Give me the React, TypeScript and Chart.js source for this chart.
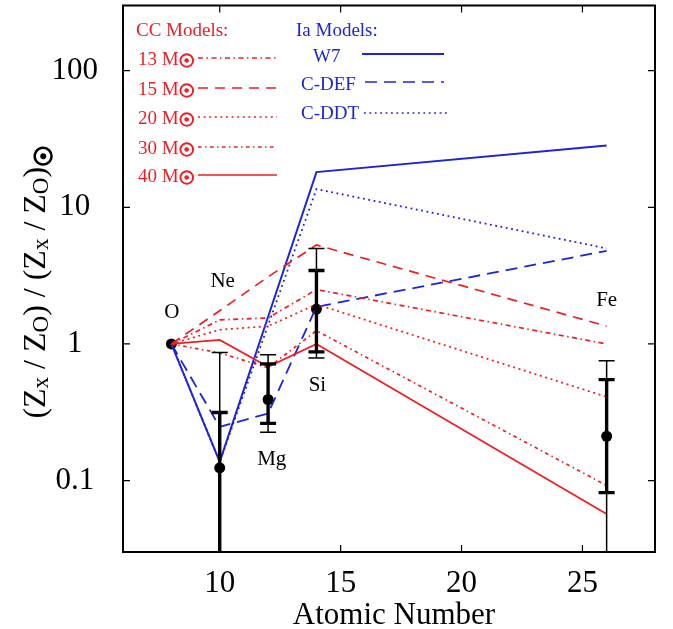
import React, { useEffect, useRef } from 'react';
import { Chart, registerables } from 'chart.js';

Chart.register(...registerables);

const RED = 'rgb(238,30,36)';
const BLUE = 'rgb(30,36,216)';
const SERIF = "'Liberation Serif', 'Times New Roman', serif";
const SYMBOL = "'DejaVu Sans', sans-serif";

// Elements O, Ne, Mg, Si, Fe
const atomicNumbers = [8, 10, 12, 14, 26];
const elementNames = ['O', 'Ne', 'Mg', 'Si', 'Fe'];

// CC (core-collapse) models
const cc13 = [1, 1.5, 1.55, 2.5, 1.0];
const cc15 = [1, 1.75, 3.1, 5.3, 1.35];
const cc20 = [1, 1.27, 1.35, 1.95, 0.41];
const cc30 = [1, 0.86, 0.67, 1.25, 0.092];
const cc40 = [1, 1.07, 0.68, 1.0, 0.057];

// Ia models
const w7 = [1, 0.137, 1.58, 18.1, 28.3];
const cdef = [1, 0.247, 0.31, 1.87, 4.8];
const cddt = [1, 0.137, 1.37, 13.6, 5.0];

// Observed ratios with error ranges (null = no bar, tiny = beyond the axis)
const obsValue = [1.0, 0.124, 0.392, 1.8, 0.211];
const thinHigh = [null, 0.865, 0.832, 5.0, 0.752];
const thinLow = [null, 0.001, 0.226, 0.79, 0.001];
const thickHigh = [null, 0.315, 0.715, 3.45, 0.548];
const thickLow = [null, 0.001, 0.262, 0.875, 0.0816];

const xTickValues = [10, 15, 20, 25];

// element label anchors (atomic number, ratio) for the text baseline
const labelZ = [8.02, 10.12, 12.15, 14.04, 26];
const labelV = [1.54, 2.62, 0.129, 0.453, 1.88];

const ccLegend = ['13 M', '15 M', '20 M', '30 M', '40 M'];
const iaLegend = ['W7', 'C-DEF', 'C-DDT'];
const SUN = '\u2609';

const DASH13 = [5, 3.5, 1.5, 3.5];
const DASH15 = [10, 7];
const DASH20 = [2, 3.6];
const DASH30 = [3.5, 3.5, 1.5, 3.5];
const DASH40: number[] = [];
const DASHW7: number[] = [];
const DASHDEF = [12, 7];
const DASHDDT = [1.8, 3.6];

const isDecade = (v: number) => Math.abs(Math.log10(v) - Math.round(Math.log10(v))) < 1e-6;

export default function App() {
  const ref = useRef<HTMLCanvasElement>(null);

  useEffect(() => {
    document.body.style.margin = '0';
    const canvas = ref.current!;

    const mkLine = (vals: number[], color: string, dash: number[], width: number) => ({
      type: 'line' as const,
      data: atomicNumbers.map((z, i) => ({ x: z, y: vals[i] })),
      borderColor: color,
      borderWidth: width,
      borderDash: dash,
      pointRadius: 0,
      fill: false,
      tension: 0,
      showLine: true,
    });

    const errorBars = {
      id: 'errorBars',
      afterDatasetsDraw(chart: any) {
        const { ctx, chartArea, scales } = chart;
        const xs = scales.x, ys = scales.y;
        ctx.save();
        ctx.beginPath();
        ctx.rect(chartArea.left, chartArea.top, chartArea.right - chartArea.left, chartArea.bottom - chartArea.top);
        ctx.clip();
        ctx.strokeStyle = '#000';
        atomicNumbers.forEach((z, i) => {
          if (thinHigh[i] == null) return;
          const px = xs.getPixelForValue(z);
          const seg = (hi: number, lo: number, lw: number, capW: number) => {
            const yh = ys.getPixelForValue(hi);
            const yl = ys.getPixelForValue(lo);
            ctx.lineWidth = lw;
            ctx.beginPath();
            ctx.moveTo(px, yh);
            ctx.lineTo(px, yl);
            ctx.moveTo(px - capW, yh);
            ctx.lineTo(px + capW, yh);
            ctx.moveTo(px - capW, yl);
            ctx.lineTo(px + capW, yl);
            ctx.stroke();
          };
          seg(thinHigh[i] as number, thinLow[i] as number, 1.5, 8);
          seg(thickHigh[i] as number, thickLow[i] as number, 3.4, 8);
        });
        ctx.restore();
      },
    };

    // the solar symbol as real text, thickened with a stroke of the glyph
    const sunText = (ctx: CanvasRenderingContext2D, x: number, y: number, size: number, color: string) => {
      ctx.save();
      ctx.setLineDash([]);
      ctx.font = `bold ${size}px ${SYMBOL}`;
      ctx.textAlign = 'left';
      ctx.fillStyle = color;
      ctx.strokeStyle = color;
      ctx.lineWidth = size * 0.07;
      ctx.fillText(SUN, x, y);
      ctx.strokeText(SUN, x, y);
      ctx.restore();
    };

    const decor = {
      id: 'decor',
      afterDraw(chart: any) {
        const { ctx, chartArea, scales } = chart;
        const { left, right, top, bottom } = chartArea;
        const xs = scales.x, ys = scales.y;
        ctx.save();
        // frame
        ctx.strokeStyle = '#000';
        ctx.lineWidth = 2;
        ctx.setLineDash([]);
        ctx.strokeRect(left, top, right - left, bottom - top);
        // tick marks (inward)
        ctx.lineWidth = 1.2;
        ctx.beginPath();
        xs.ticks.forEach((t: any) => {
          const px = xs.getPixelForValue(t.value);
          ctx.moveTo(px, bottom);
          ctx.lineTo(px, bottom - 7);
          ctx.moveTo(px, top);
          ctx.lineTo(px, top + 7);
        });
        ys.ticks.forEach((t: any) => {
          const v = t.value;
          if (v <= ys.min * 1.0001 || v >= ys.max * 0.9999) return;
          const py = ys.getPixelForValue(v);
          const len = isDecade(v) ? 7 : 4;
          ctx.moveTo(left, py);
          ctx.lineTo(left + len, py);
          ctx.moveTo(right, py);
          ctx.lineTo(right - len, py);
        });
        ctx.stroke();

        // element labels
        ctx.fillStyle = '#000';
        ctx.font = `21px ${SERIF}`;
        ctx.textAlign = 'center';
        ctx.textBaseline = 'alphabetic';
        elementNames.forEach((n, i) => {
          ctx.fillText(n, xs.getPixelForValue(labelZ[i]), ys.getPixelForValue(labelV[i]));
        });

        // legend
        ctx.textAlign = 'left';
        ctx.font = `19px ${SERIF}`;
        ctx.fillStyle = RED;
        ctx.fillText('CC Models:', 136, 36);
        const ccRows = [58, 88, 117, 147, 175];
        const ccD = [DASH13, DASH15, DASH20, DASH30, DASH40];
        ccLegend.forEach((lab, i) => {
          const y = ccRows[i];
          ctx.font = `19px ${SERIF}`;
          ctx.fillStyle = RED;
          ctx.fillText(lab, 138, y + 7);
          const w = ctx.measureText(lab).width;
          sunText(ctx, 138 + w, y + 9, 18, RED);
          ctx.strokeStyle = RED;
          ctx.lineWidth = 1.7;
          ctx.setLineDash(ccD[i]);
          ctx.beginPath();
          ctx.moveTo(198, y);
          ctx.lineTo(277, y);
          ctx.stroke();
        });
        ctx.setLineDash([]);
        ctx.font = `19px ${SERIF}`;
        ctx.fillStyle = BLUE;
        ctx.fillText('Ia Models:', 296, 36);
        const iaText = [[313, 62], [301, 90], [301, 119]];
        const iaLine = [[362, 444, 54], [365, 444, 82], [364, 447, 113]];
        const iaD = [DASHW7, DASHDEF, DASHDDT];
        iaLegend.forEach((lab, i) => {
          ctx.fillStyle = BLUE;
          ctx.fillText(lab, iaText[i][0], iaText[i][1]);
          ctx.strokeStyle = BLUE;
          ctx.lineWidth = i === 0 ? 2 : 1.7;
          ctx.setLineDash(iaD[i]);
          ctx.beginPath();
          ctx.moveTo(iaLine[i][0], iaLine[i][2]);
          ctx.lineTo(iaLine[i][1], iaLine[i][2]);
          ctx.stroke();
        });
        ctx.setLineDash([]);

        // x axis title
        ctx.fillStyle = '#000';
        ctx.font = `31px ${SERIF}`;
        ctx.textAlign = 'center';
        ctx.fillText('Atomic Number', 394, 624);

        // y axis title with subscripts
        ctx.save();
        ctx.translate(45, 282);
        ctx.rotate(-Math.PI / 2);
        const main = `32px ${SERIF}`;
        const sub = `23px ${SERIF}`;
        const segs: [string, string, number][] = [
          ['(Z', main, 0], ['x', sub, 3], [' / Z', main, 0], ['O', sub, 3], [') / (Z', main, 0],
          ['x', sub, 3], [' / Z', main, 0], ['O', sub, 3], [')', main, 0],
        ];
        ctx.font = `bold 24px ${SYMBOL}`;
        const symW = ctx.measureText(SUN).width;
        let total = symW;
        segs.forEach(([t, f]) => { ctx.font = f; total += ctx.measureText(t).width; });
        let cx = -total / 2;
        ctx.textAlign = 'left';
        ctx.fillStyle = '#000';
        segs.forEach(([t, f, dy]) => {
          ctx.font = f;
          ctx.fillText(t, cx, dy);
          cx += ctx.measureText(t).width;
        });
        sunText(ctx, cx, 7, 24, '#000');
        ctx.restore();

        ctx.restore();
      },
    };

    const chart = new Chart(canvas, {
      type: 'scatter',
      data: {
        datasets: [
          mkLine(cc13, RED, DASH13, 1.7),
          mkLine(cc15, RED, DASH15, 1.7),
          mkLine(cc20, RED, DASH20, 1.7),
          mkLine(cc30, RED, DASH30, 1.7),
          mkLine(cc40, RED, DASH40, 1.7),
          mkLine(w7, BLUE, DASHW7, 2),
          mkLine(cdef, BLUE, DASHDEF, 1.8),
          mkLine(cddt, BLUE, DASHDDT, 1.8),
          {
            type: 'scatter' as const,
            data: atomicNumbers.map((z, i) => ({ x: z, y: obsValue[i] })),
            pointRadius: 5.5,
            pointBackgroundColor: '#000',
            pointBorderWidth: 0,
            showLine: false,
          } as any,
        ],
      },
      options: {
        responsive: false,
        maintainAspectRatio: false,
        animation: false,
        layout: { padding: { left: 0, right: 18, top: 3, bottom: 0 } },
        plugins: { legend: { display: false }, tooltip: { enabled: false } },
        scales: {
          x: {
            type: 'linear',
            min: 6,
            max: 28,
            grid: { display: false },
            border: { display: false },
            afterBuildTicks: (s: any) => { s.ticks = xTickValues.map((v) => ({ value: v })); },
            afterFit: (s: any) => { s.height = 77; s.paddingLeft = 0; s.paddingRight = 0; },
            ticks: {
              color: '#000',
              font: { family: SERIF, size: 31 },
              padding: 5,
              maxRotation: 0,
              autoSkip: false,
              callback: (v: any) => String(v),
            },
          },
          y: {
            type: 'logarithmic',
            min: 0.03,
            max: 300,
            grid: { display: false },
            border: { display: false },
            afterFit: (s: any) => { s.width = 123; s.paddingTop = 0; s.paddingBottom = 0; },
            ticks: {
              color: '#000',
              font: { family: SERIF, size: 31 },
              padding: 17,
              crossAlign: 'center',
              autoSkip: false,
              callback: (v: any) => {
                const n = Number(v);
                if (!isDecade(n)) return null;
                const e = Math.round(Math.log10(n));
                return e < 0 ? (10 ** e).toFixed(-e) : String(10 ** e);
              },
            },
          },
        },
      } as any,
      plugins: [errorBars, decor],
    });
    return () => chart.destroy();
  }, []);

  return (
    <div style={{ width: 673, height: 629 }}>
      <canvas ref={ref} width={673} height={629} style={{ display: 'block' }} />
    </div>
  );
}
